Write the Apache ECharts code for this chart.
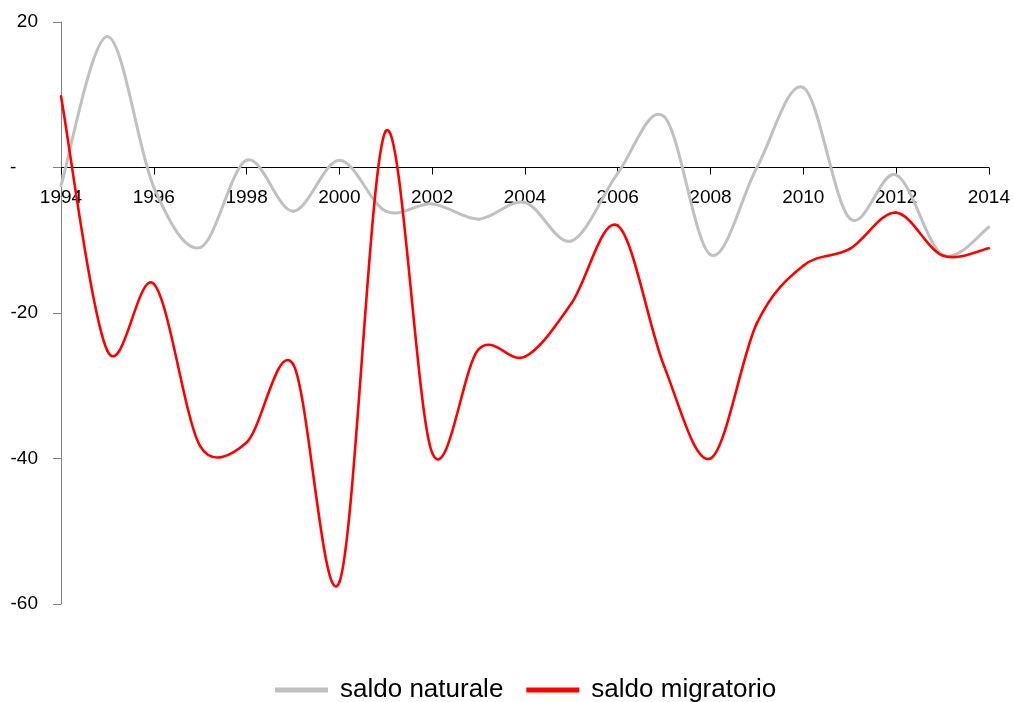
<!DOCTYPE html>
<html>
<head>
<meta charset="utf-8">
<script src="https://cdn.jsdelivr.net/npm/echarts@6/dist/echarts.min.js"></script>
<style>
  html, body { margin: 0; padding: 0; background: #fff; }
  #chart { width: 1013px; height: 702px; }
</style>
</head>
<body>
<div id="chart"></div>
<script>
// Annual population balance, 1994-2014
const years = ['1994','1995','1996','1997','1998','1999','2000','2001','2002','2003','2004',
               '2005','2006','2007','2008','2009','2010','2011','2012','2013','2014'];
const saldoNaturale = [-2.5, 18, -2.7, -11, 1, -6, 1, -6, -5, -7.1, -4.8,
                       -10.1, -0.8, 7, -12, 0, 11, -7, -1, -12, -8.2];
const saldoMigratorio = [9.8, -25.2, -16, -38.3, -37.8, -27, -57, 5, -39.2, -25, -26,
                         -18.7, -8, -27.3, -40, -21.4, -13.5, -11.2, -6.2, -12.1, -11.1];
const seriesNames = ['saldo naturale', 'saldo migratorio'];
const seriesColors = ['#c0c0c0', '#ff0000'];
const seriesWidths = [3, 2.6];
const seriesValues = [saldoNaturale, saldoMigratorio];

const FONT = '"Liberation Sans", Arial, sans-serif';

// Bezier control points for the segment p1 -> p2 (spreadsheet-style smoothing:
// tangent along p0->p2, arm 1/6 of it, capped at half the segment length).
function segmentControls(p0, p1, p2, p3) {
  const dist = (a, b) => Math.hypot(b[0] - a[0], b[1] - a[1]);
  const d12 = dist(p1, p2), d02 = dist(p0, p2), d13 = dist(p1, p3);
  const f1 = d02 > 0 ? Math.min(1 / 6, d12 / (2 * d02)) : 0;
  const f2 = d13 > 0 ? Math.min(1 / 6, d12 / (2 * d13)) : 0;
  return [
    p1[0] + (p2[0] - p0[0]) * f1, p1[1] + (p2[1] - p0[1]) * f1,
    p2[0] - (p3[0] - p1[0]) * f2, p2[1] - (p3[1] - p1[1]) * f2
  ];
}

function smoothSegment(params, api) {
  const vals = seriesValues[params.seriesIndex];
  const i = params.dataIndex;
  const n = vals.length;
  if (i >= n - 1) return null;
  const pt = k => {
    const j = Math.max(0, Math.min(n - 1, k));
    return api.coord([j, vals[j]]);
  };
  const p0 = pt(i - 1), p1 = pt(i), p2 = pt(i + 1), p3 = pt(i + 2);
  const c = segmentControls(p0, p1, p2, p3);
  return {
    type: 'path',
    silent: true,
    shape: {
      pathData: 'M' + p1[0] + ',' + p1[1] +
        ' C' + c[0] + ',' + c[1] + ' ' + c[2] + ',' + c[3] + ' ' + p2[0] + ',' + p2[1]
    },
    style: {
      fill: 'none',
      stroke: seriesColors[params.seriesIndex],
      lineWidth: seriesWidths[params.seriesIndex],
      lineCap: 'round',
      lineJoin: 'round'
    }
  };
}

const chart = echarts.init(document.getElementById('chart'), null, { renderer: 'canvas' });
chart.setOption({
  animation: false,
  backgroundColor: '#ffffff',
  grid: { left: 61, right: 23, top: 22, bottom: 98, containLabel: false },
  legend: {
    data: seriesNames,
    left: 270,
    top: 672,
    itemWidth: 53,
    itemHeight: 12,
    itemGap: 23,
    icon: 'path://M0,0 L53,0 L53,5 L0,5 Z',
    textStyle: { fontFamily: FONT, fontSize: 26, color: '#000', padding: [0, 0, 0, 7] }
  },
  xAxis: {
    type: 'category',
    data: years,
    boundaryGap: false,
    position: 'bottom',
    offset: -436.5,
    axisLine: { onZero: false, lineStyle: { color: '#000', width: 1 } },
    axisTick: { show: true, interval: 1, length: 7, inside: false, lineStyle: { color: '#000' } },
    axisLabel: { interval: 1, margin: 21, fontFamily: FONT, fontSize: 19, color: '#000' },
    splitLine: { show: false }
  },
  yAxis: {
    type: 'value',
    min: -60,
    max: 20,
    interval: 20,
    axisLine: { show: true, lineStyle: { color: '#808080', width: 1 } },
    axisTick: { show: true, length: 8, lineStyle: { color: '#808080' } },
    axisLabel: {
      margin: 23,
      fontFamily: FONT,
      fontSize: 19,
      color: '#000',
      formatter: v => v === 0 ? '{z|-}' : String(v),
      rich: { z: { width: 28, align: 'left', fontFamily: FONT, fontSize: 19, color: '#000' } }
    },
    splitLine: { show: false }
  },
  series: seriesNames.map((name, s) => ({
    name: name,
    type: 'custom',
    data: seriesValues[s].map((v, i) => [i, v]),
    encode: { x: 0, y: 1 },
    renderItem: smoothSegment,
    itemStyle: { color: seriesColors[s] },
    z: 2 + s
  }))
});
</script>
</body>
</html>
